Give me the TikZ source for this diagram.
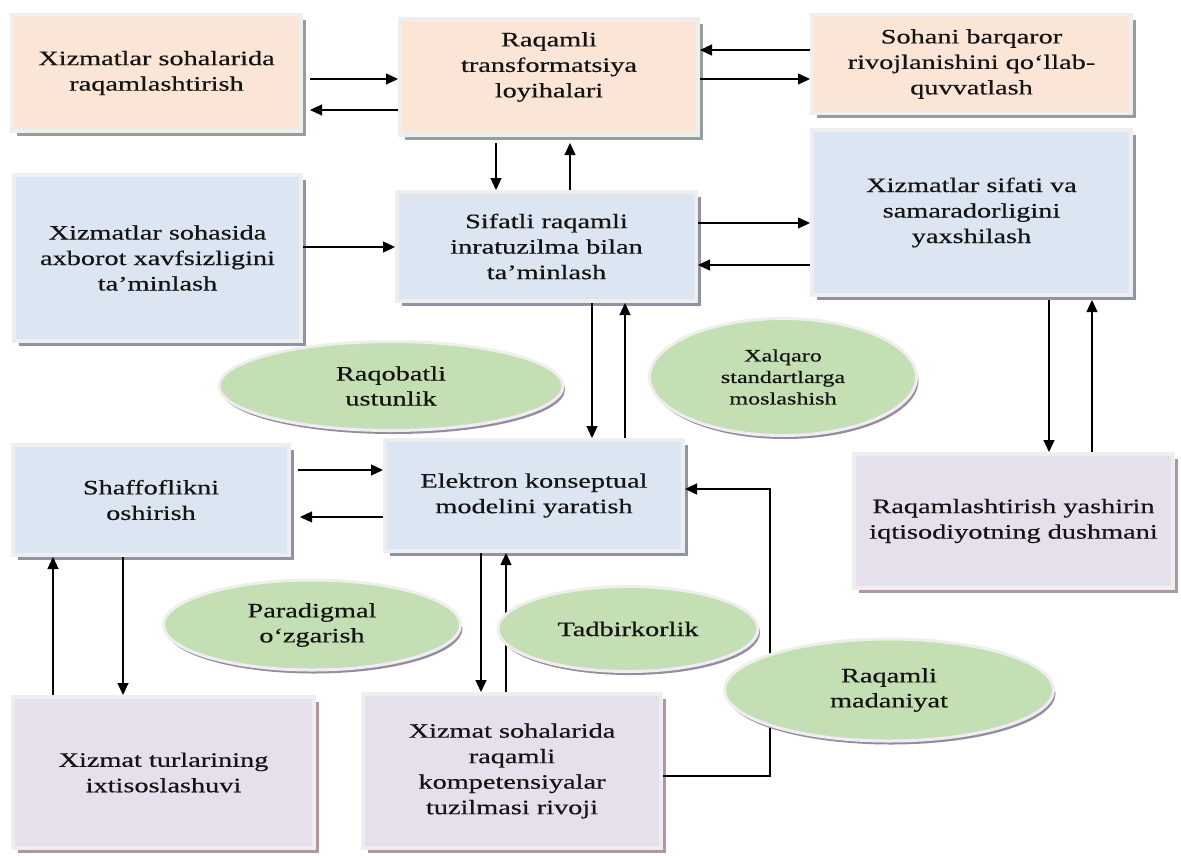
\documentclass[tikz,border=0pt]{standalone}
\usepackage{fontspec}
\setmainfont[FakeStretch=1.38, FakeBold=0.5]{Liberation Serif}
\usetikzlibrary{shapes.geometric,shadows,arrows.meta}

\definecolor{peche}{RGB}{251,229,214}
\definecolor{bleu}{RGB}{220,230,242}
\definecolor{lavande}{RGB}{230,224,236}
\definecolor{vert}{RGB}{196,223,180}
\definecolor{bord}{RGB}{238,238,241}
\definecolor{ombre}{RGB}{150,158,150}
\definecolor{ombrebleu}{RGB}{140,148,165}
\definecolor{ombrelav}{RGB}{178,150,155}
\definecolor{ombreell}{RGB}{150,140,160}
\definecolor{texte}{RGB}{20,20,20}

\tikzset{
  boite/.style={draw=bord, line width=4pt, align=center, inner sep=0pt, text=texte,
    font=\fontsize{20.5}{25.5}\selectfont},
  peche/.style={boite, fill=peche,
    drop shadow={shadow xshift=4.5pt, shadow yshift=-4.5pt, fill=ombre, opacity=1}},
  bleu/.style={boite, fill=bleu,
    drop shadow={shadow xshift=4.5pt, shadow yshift=-4.5pt, fill=ombrebleu, opacity=1}},
  lavande/.style={boite, fill=lavande,
    drop shadow={shadow xshift=4.5pt, shadow yshift=-4.5pt, fill=ombrelav, opacity=1}},
  bulle/.style={ellipse, fill=vert, draw=bord, line width=3pt, inner sep=0pt, align=center,
    text=texte, font=\fontsize{20.5}{25}\selectfont,
    drop shadow={shadow xshift=2pt, shadow yshift=-3.5pt, fill=ombreell, opacity=1}},
  fleche/.style={-{Triangle[length=12pt,width=11pt]}, line width=1.2pt, black}
}

\begin{document}
\begin{tikzpicture}[x=1pt, y=-1pt]
            \useasboundingbox (0,0) rectangle (1181,855);

            % Déclaration des blocs
            \node[peche, minimum width=289pt, minimum height=116pt] (xizmat) at (156.5,73) {Xizmatlar sohalarida\\raqamlashtirish};
            \node[peche, minimum width=298pt, minimum height=116pt] (transf) at (549,77) {Raqamli\\transformatsiya\\loyihalari\\[-1pt]\mbox{}};
            \node[peche, minimum width=319pt, minimum height=98pt] (barqaror) at (971.5,64) {Sohani barqaror\\rivojlanishini qo‘llab-\\quvvatlash};
            \node[bleu, minimum width=287pt, minimum height=166pt] (axborot) at (157.5,258) {Xizmatlar sohasida\\axborot xavfsizligini\\ta’minlash};
            \node[bleu, minimum width=299pt, minimum height=109pt] (sifatli) at (546.5,246.5) {Sifatli raqamli\\inratuzilma bilan\\ta’minlash};
            \node[bleu, minimum width=319pt, minimum height=165pt] (samara) at (971.5,212.5) {Xizmatlar sifati va\\samaradorligini\\yaxshilash};
            \node[bleu, minimum width=276pt, minimum height=110pt] (shaff) at (151,500) {Shaffoflikni\\oshirish};
            \node[bleu, minimum width=298pt, minimum height=111pt] (elektron) at (534,495.5) {Elektron konseptual\\modelini yaratish};
            \node[lavande, minimum width=319pt, minimum height=134pt] (yashirin) at (1013.5,521) {Raqamlashtirish yashirin\\iqtisodiyotning dushmani};
            \node[lavande, minimum width=301pt, minimum height=151pt] (turlar) at (163.5,772.5) {Xizmat turlarining\\ixtisoslashuvi};
            \node[lavande, minimum width=298pt, minimum height=154pt] (kompet) at (512,771) {Xizmat sohalarida\\raqamli\\kompetensiyalar\\tuzilmasi rivoji};

            % Ajout des flèches
            \draw[fleche, shorten <=7pt] (xizmat.east |- 0,79) -- (transf.west |- 0,79);
            \draw[fleche, shorten >=7pt] (transf.west |- 0,110) -- (xizmat.east |- 0,110);
            \draw[fleche] (barqaror.west |- 0,50) -- (transf.east |- 0,50);
            \draw[fleche] (transf.east |- 0,79) -- (barqaror.west |- 0,79);
            \draw[fleche, shorten <=6pt] (transf.south -| 496,0) -- (sifatli.north -| 496,0);
            \draw[fleche, shorten >=6pt] (sifatli.north -| 570,0) -- (transf.south -| 570,0);
            \draw[fleche] (axborot.east |- 0,247) -- (sifatli.west |- 0,247);
            \draw[fleche] (sifatli.east |- 0,223) -- (samara.west |- 0,223);
            \draw[fleche] (samara.west |- 0,265) -- (sifatli.east |- 0,265);
            \draw[fleche] (sifatli.south -| 592,0) -- (elektron.north -| 592,0);
            \draw[fleche] (elektron.north -| 625,0) -- (sifatli.south -| 625,0);
            \draw[fleche, shorten <=3pt] (samara.south -| 1049,0) -- (yashirin.north -| 1049,0);
            \draw[fleche, shorten >=3pt] (yashirin.north -| 1092,0) -- (samara.south -| 1092,0);
            \draw[fleche, shorten <=7pt] (shaff.east |- 0,470) -- (elektron.west |- 0,470);
            \draw[fleche, shorten >=9pt] (elektron.west |- 0,517) -- (shaff.east |- 0,517);
            \draw[fleche] (shaff.south -| 123,0) -- (turlar.north -| 123,0);
            \draw[fleche] (turlar.north -| 53,0) -- (shaff.south -| 53,0);
            \draw[fleche] (elektron.south -| 481,0) -- (kompet.north -| 481,0);
            \draw[fleche] (kompet.north -| 506,0) -- (elektron.south -| 506,0);
            \coordinate (coude) at (770,489);
            \draw[fleche] (kompet.east |- 0,776) -| (coude) -- (elektron.east |- coude);

            % Déclaration des ellipses
            \node[bulle, minimum width=344pt, minimum height=89pt] (raqobat) at (391,386) {Raqobatli\\ustunlik};
            \node[bulle, minimum width=267pt, minimum height=117pt, font=\fontsize{17.5}{21.5}\selectfont] (xalqaro) at (783,377) {Xalqaro\\standartlarga\\moslashish};
            \node[bulle, minimum width=297pt, minimum height=90pt] (paradigma) at (312,625) {Paradigmal\\o‘zgarish};
            \node[bulle, minimum width=260pt, minimum height=85pt] (tadbir) at (628,629) {Tadbirkorlik};
            \node[bulle, minimum width=329pt, minimum height=102pt] (madaniyat) at (889,690) {Raqamli\\madaniyat};
          \end{tikzpicture}
\end{document}
